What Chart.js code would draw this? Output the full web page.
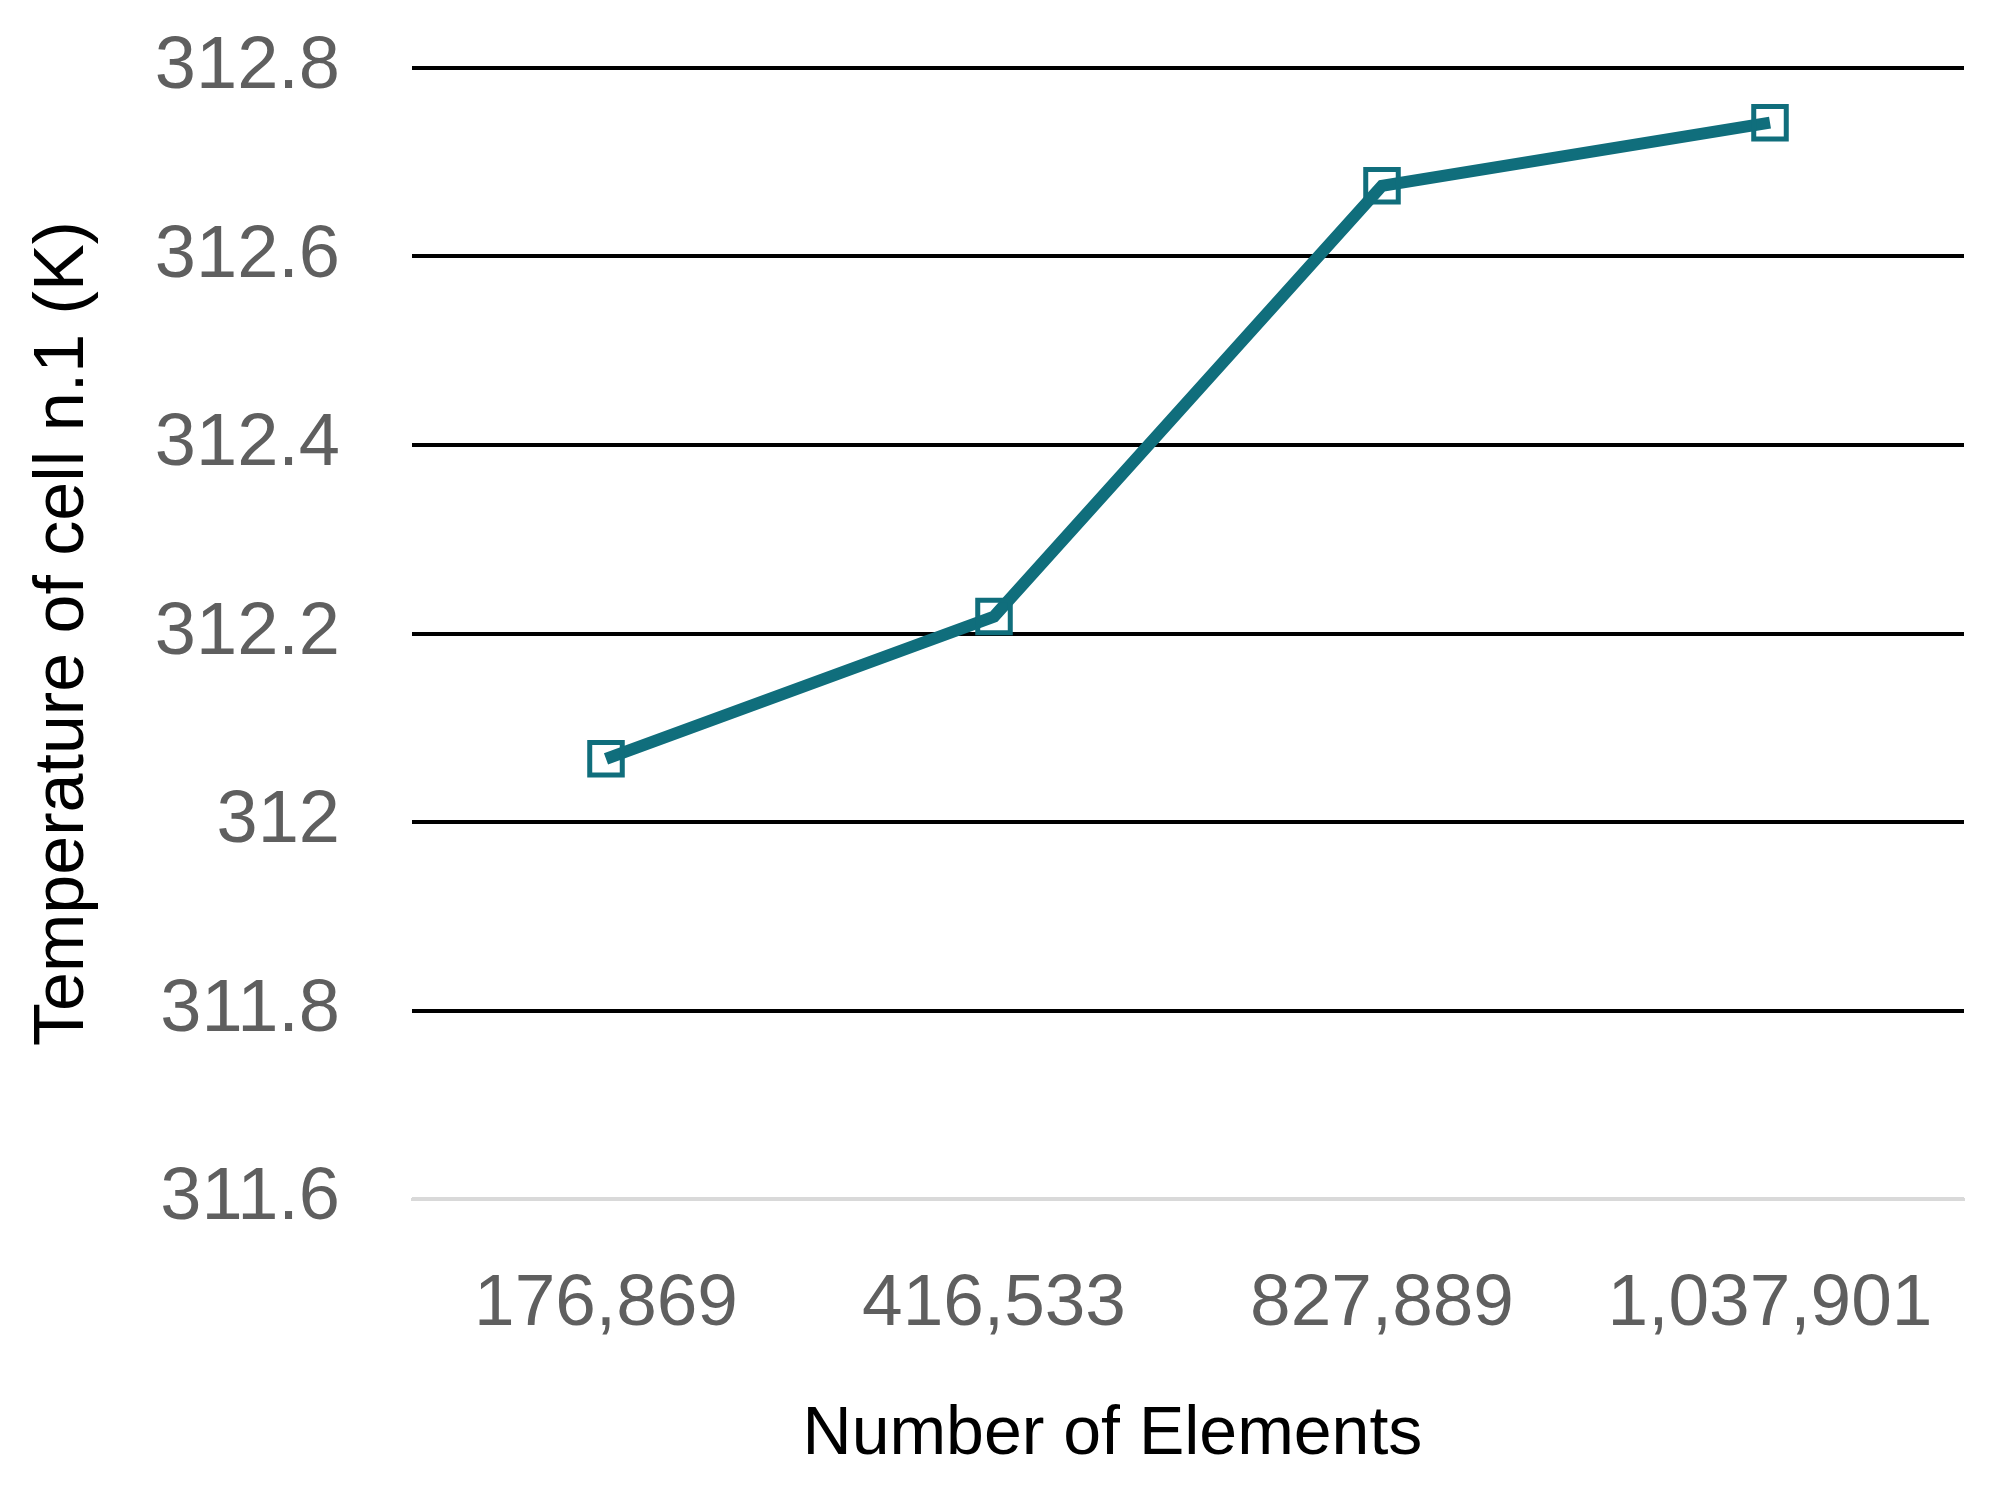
<!DOCTYPE html>
<html>
<head>
<meta charset="utf-8">
<script src="https://cdn.jsdelivr.net/npm/chart.js@4/dist/chart.umd.min.js"></script>
<style>
  html, body { margin: 0; padding: 0; background: #fff; }
  #wrap { width: 2015px; height: 1496px; }
</style>
</head>
<body>
<div id="wrap"><canvas id="meshChart"></canvas></div>
<script>
// mesh independence check: cell n.1 temperature vs element count
const elementLabels = ["176,869", "416,533", "827,889", "1,037,901"];
const cellTemps = [312.067, 312.218, 312.675, 312.742];
const yTickValues = [311.6, 311.8, 312, 312.2, 312.4, 312.6, 312.8];

const lineColor = "#106e7c";
const fontFamily = "'Liberation Sans', Arial, sans-serif";

const canvas = document.getElementById("meshChart");

new Chart(canvas, {
  type: "line",
  data: {
    labels: elementLabels,
    datasets: [
      {
        data: cellTemps,
        borderColor: lineColor,
        backgroundColor: "rgba(0,0,0,0)",
        borderWidth: 12,
        tension: 0,
        pointStyle: "rect",
        pointRadius: 23,
        pointBorderWidth: 5,
        pointBorderColor: lineColor,
        pointBackgroundColor: "rgba(0,0,0,0)",
      },
    ],
  },
  options: {
    responsive: true,
    maintainAspectRatio: false,
    animation: false,
    layout: { padding: { top: 68, right: 51, bottom: 0, left: 0 } },
    plugins: {
      legend: { display: false },
      tooltip: { enabled: false },
    },
    scales: {
      x: {
        offset: true,
        grid: { display: false, drawTicks: false },
        border: { display: true, color: "#d9d9d9", width: 3 },
        ticks: {
          color: "#5f5f5f",
          font: { family: fontFamily, size: 73 },
          padding: 62,
          maxRotation: 0,
        },
        title: {
          display: true,
          // trailing spaces nudge the centred title left like the original
          text: "Number of Elements\u00a0\u00a0\u00a0\u00a0\u00a0\u00a0\u00a0\u00a0",
          color: "#000",
          font: { family: fontFamily, size: 68 },
          padding: { top: 0, bottom: 20 },
        },
        afterFit: (scale) => { scale.height = 297; },
      },
      y: {
        min: 311.6,
        max: 312.8,
        afterBuildTicks: (scale) => {
          scale.ticks = yTickValues.map((v) => ({ value: v }));
        },
        grid: {
          drawTicks: false,
          lineWidth: 4,
          color: (ctx) => (ctx.tick && ctx.tick.value <= 311.6 ? "#d9d9d9" : "#000000"),
        },
        border: { display: false },
        ticks: {
          color: "#5f5f5f",
          font: { family: fontFamily, size: 74 },
          padding: 72,
          callback: (v) => String(Number(Number(v).toFixed(1))),
        },
        title: {
          display: true,
          text: "Temperature of cell n.1 (K)",
          color: "#000",
          font: { family: fontFamily, size: 70 },
          padding: { top: 22, bottom: 0 },
        },
        afterFit: (scale) => {
          scale.width = 412;
          // tick padding would otherwise push the plot top down
          scale.paddingTop = 0;
          scale.paddingBottom = 0;
        },
      },
    },
  },
});
</script>
</body>
</html>
